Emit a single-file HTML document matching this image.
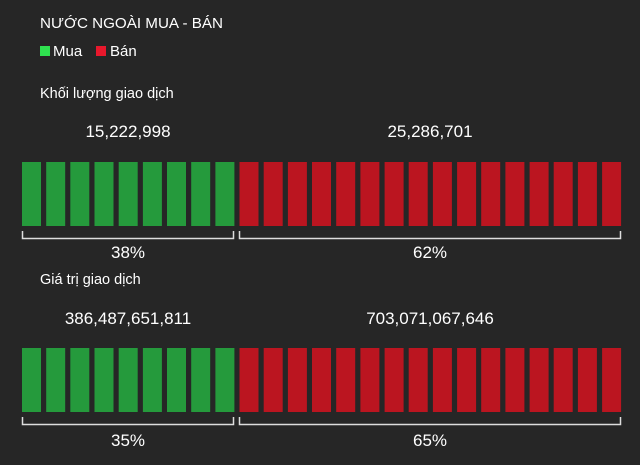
<!DOCTYPE html>
<html><head><meta charset="utf-8"><style>
html,body{margin:0;padding:0;background:#262626;}
svg{display:block;font-family:"Liberation Sans",Arial,sans-serif;}
</style></head><body>
<svg width="640" height="465" viewBox="0 0 640 465" xmlns="http://www.w3.org/2000/svg">
<rect width="640" height="465" fill="#262626"/>
<text x="40" y="28" fill="#fff" font-size="15.2">NƯỚC NGOÀI MUA - BÁN</text>
<rect x="40" y="46" width="10" height="10" fill="#2fe04f"/>
<text x="53" y="56" fill="#fff" font-size="15">Mua</text>
<rect x="96" y="46" width="10" height="10" fill="#e8182c"/>
<text x="110" y="56" fill="#fff" font-size="15">Bán</text>
<text x="40" y="98" fill="#fff" font-size="14.5">Khối lượng giao dịch</text>
<text x="128" y="137" fill="#fff" font-size="17">15,222,998</text>
<text x="430" y="137" fill="#fff" font-size="17" text-anchor="middle">25,286,701</text>
<text x="128" y="258" fill="#fff" font-size="17" text-anchor="middle">38%</text>
<text x="430" y="258" fill="#fff" font-size="17" text-anchor="middle">62%</text>
<text x="40" y="284" fill="#fff" font-size="14.5">Giá trị giao dịch</text>
<text x="128" y="324" fill="#fff" font-size="17" text-anchor="middle">386,487,651,811</text>
<text x="430" y="324" fill="#fff" font-size="17" text-anchor="middle">703,071,067,646</text>
<text x="128" y="446" fill="#fff" font-size="17" text-anchor="middle">35%</text>
<text x="430" y="446" fill="#fff" font-size="17" text-anchor="middle">65%</text>
<g id="bars"></g>
<g fill="none" stroke="#ddd" stroke-width="1.5">
<path d="M22.5 231V238.5H233.5V231M239.5 231V238.5H620.5V231"/>
<path d="M22.5 417V424.5H233.5V417M239.5 417V424.5H620.5V417"/>
</g>
</svg>
<script>
document.querySelector('text[x="128"][y="137"]').setAttribute('text-anchor','middle');
var g=document.getElementById('bars'),s='';
[162,348].forEach(function(y){
for(var i=0;i<25;i++){var x=22+i*24.17;
s+='<rect x="'+x.toFixed(1)+'" y="'+y+'" width="19" height="64" fill="'+(i<9?'#259a3c':'#bb1520')+'"/>';}
});
g.innerHTML=s;
</script>
</body></html>
